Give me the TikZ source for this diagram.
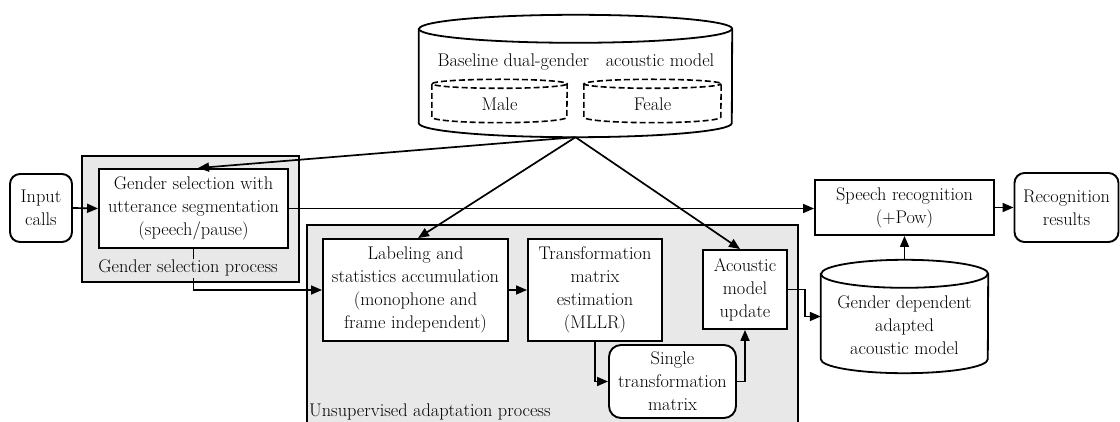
\documentclass[tikz,border=0pt]{standalone}
\usetikzlibrary{arrows.meta,calc}
\begin{document}
\begin{tikzpicture}[x=1pt,y=-1pt,
  font=\rmfamily\fontsize{18.3}{23}\selectfont,
  box/.style={draw, line width=1.9pt, fill=white, align=center, inner sep=0pt},
  rbox/.style={box, rounded corners=10pt},
  area/.style={draw, line width=2pt, fill=gray!18, inner sep=0pt},
  shapebox/.style={draw=none, inner sep=0pt},
  db/.style={draw, line width=1.8pt, fill=white},
  dbin/.style={draw, line width=1.6pt, dashed, dash pattern=on 6pt off 3pt},
  conn/.style={line width=1.7pt, -{Triangle[length=11pt,width=9pt]}},
  lbl/.style={inner sep=0pt, align=center}]
\useasboundingbox (0,0) rectangle (1120,422);

% process areas
\node[area, minimum width=217pt, minimum height=126pt] (gproc) at (190.5,219) {};
\fill[gray!18] (307,225) rectangle (798,423);
\draw[line width=2pt] (307,423) -- (307,225) -- (798,225) -- (798,423);

% baseline acoustic model (cylinder with two inner cylinders)
\node[shapebox, minimum width=313pt, minimum height=122pt] (base) at (575.5,76) {};
\draw[db] ([yshift=-14pt]base.north west) -- ([yshift=14pt]base.south west)
  arc[start angle=180, end angle=360, x radius=156.5pt, y radius=14pt]
  -- ([yshift=-14pt]base.north east)
  arc[start angle=0, end angle=180, x radius=156.5pt, y radius=14pt] -- cycle;
\draw[db, fill=none] ([yshift=-14pt]base.north west)
  arc[start angle=180, end angle=360, x radius=156.5pt, y radius=14pt];
\node[lbl] (basetxt) at (576,62) {Baseline dual-gender\ \ \ acoustic model};

\node[shapebox, minimum width=135pt, minimum height=43pt] (male) at (499.5,101) {};
\draw[dbin] ([yshift=-4.5pt]male.north west) -- ([yshift=5.5pt]male.south west)
  arc[start angle=180, end angle=360, x radius=67.5pt, y radius=5.5pt]
  -- ([yshift=-4.5pt]male.north east)
  arc[start angle=0, end angle=360, x radius=67.5pt, y radius=4.5pt];
\node[lbl] (maletxt) at (499.5,104) {Male};

\node[shapebox, minimum width=137pt, minimum height=43pt] (feale) at (652.5,101) {};
\draw[dbin] ([yshift=-4.5pt]feale.north west) -- ([yshift=5.5pt]feale.south west)
  arc[start angle=180, end angle=360, x radius=68.5pt, y radius=5.5pt]
  -- ([yshift=-4.5pt]feale.north east)
  arc[start angle=0, end angle=360, x radius=68.5pt, y radius=4.5pt];
\node[lbl] (fealetxt) at (652.5,104) {Feale};

% adapted acoustic model (cylinder)
\node[shapebox, minimum width=167pt, minimum height=113pt] (gdam) at (904.5,316.5) {};
\draw[db] ([yshift=-14pt]gdam.north west) -- ([yshift=14pt]gdam.south west)
  arc[start angle=180, end angle=360, x radius=83.5pt, y radius=14pt]
  -- ([yshift=-14pt]gdam.north east)
  arc[start angle=0, end angle=180, x radius=83.5pt, y radius=14pt] -- cycle;
\draw[db, fill=none] ([yshift=-14pt]gdam.north west)
  arc[start angle=180, end angle=360, x radius=83.5pt, y radius=14pt];
\node[lbl] (gdamtxt) at (904.5,325) {Gender dependent\\adapted\\acoustic model};

% process steps
\node[rbox, minimum width=62pt, minimum height=68pt] (inp) at (41,208) {Input\\calls};
\node[box, minimum width=189pt, minimum height=79pt] (gsel) at (193.5,208.5)
  {Gender selection with\\utterance segmentation\\(speech/pause)};
\node[box, minimum width=185pt, minimum height=102pt] (lab) at (415.5,290)
  {Labeling and\\statistics accumulation\\(monophone and\\frame independent)};
\node[box, minimum width=134pt, minimum height=102pt] (trans) at (595,290)
  {Transformation\\matrix\\estimation\\(MLLR)};
\node[box, minimum width=84pt, minimum height=79pt] (acu) at (745,289.5)
  {Acoustic\\model\\update};
\node[rbox, rounded corners=12pt, minimum width=127pt, minimum height=73pt] (single) at (672.5,381.5)
  {Single\\transformation\\matrix};
\node[box, minimum width=179pt, minimum height=55pt] (speech) at (904.5,207.5)
  {Speech recognition\\(+Pow)};
\node[rbox, minimum width=104pt, minimum height=69pt] (res) at (1066.5,207.5)
  {Recognition\\results};

% connectors
\draw[conn] (gsel.south) |- (lab.west);
\node[lbl, fill=gray!18, inner sep=1pt, anchor=base] (gproclbl) at (188,273) {Gender selection process};
\node[lbl, anchor=base west] (uproclbl) at (309,416) {Unsupervised adaptation process};

\draw[conn] (inp.east) -- (gsel.west);
\draw[conn] (gsel.east) -- (gsel.east -| speech.west);
\draw[conn] (base.south) -- ([xshift=4.5pt]gsel.north);
\draw[conn] (base.south) -- ([xshift=2.5pt]lab.north);
\draw[conn] (base.south) -- ([xshift=-5pt]acu.north);
\draw[conn] (lab.east) -- (trans.west);
\draw[conn] (trans.south) |- (single.west);
\draw[conn] (single.east) -| (acu.south);
\draw[conn] (acu.east) -- ++(17,0) |- (gdam.west);
\draw[conn] (gdam.north) -- (speech.south);
\draw[conn] (speech.east) -- (res.west);
\end{tikzpicture}
\end{document}
